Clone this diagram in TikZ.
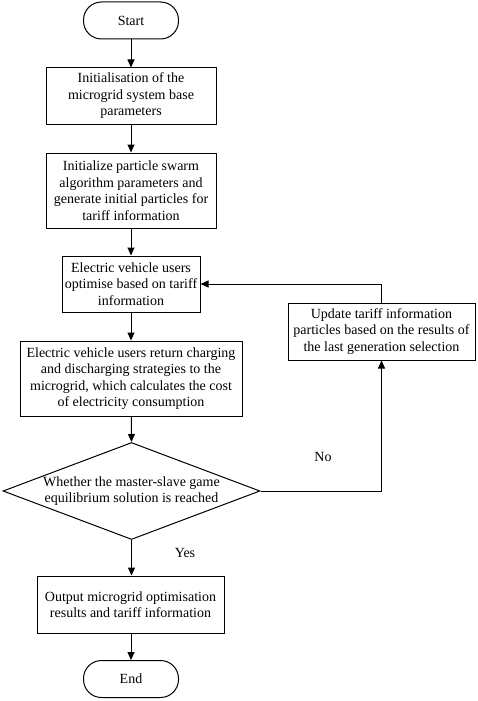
\documentclass[tikz,border=0pt]{standalone}
\usepackage{fontspec}
\setmainfont{Liberation Serif}
\usetikzlibrary{arrows.meta,shapes.geometric}
\begin{document}
\begin{tikzpicture}[x=1pt,y=1pt,
  every node/.style={font=\fontsize{14}{16.5}\selectfont},
  proc/.style={draw,line width=1pt,rectangle,align=center,inner sep=1pt},
  term/.style={draw,line width=1pt,rectangle,rounded corners=18pt,minimum width=95pt,minimum height=37pt},
  arr/.style={line width=1pt,-{Triangle[length=8pt,width=7pt]}},
  ln/.style={line width=1pt}]
\useasboundingbox (0,0) rectangle (477,-701);
\node[term] (start) at (131,-20.5) {Start};
\node[proc,minimum width=170pt,minimum height=56pt] (b1) at (131,-96) {Initialisation of the\\microgrid system base\\parameters};
\node[proc,minimum width=170pt,minimum height=75pt] (b2) at (131,-190.5) {Initialize particle swarm\\algorithm parameters and\\generate initial particles for\\tariff information};
\node[proc,minimum width=138pt,minimum height=56pt] (b3) at (131,-284) {Electric vehicle users\\optimise based on tariff\\information};
\node[proc,minimum width=222pt,minimum height=75pt] (b4) at (131,-378.5) {Electric vehicle users return charging\\and discharging strategies to the\\microgrid, which calculates the cost\\of electricity consumption};
\node[draw,line width=1pt,diamond,minimum width=257pt,minimum height=97pt,inner sep=0pt] (dia) at (131.5,-491) {};
\node[align=center] (diat) at (131.5,-491) {Whether the master-slave game\\equilibrium solution is reached};
\node[proc,minimum width=187pt,minimum height=57pt] (b5) at (130.5,-604.5) {Output microgrid optimisation\\results and tariff information};
\node[term] (end) at (131,-679) {End};
\node[proc,minimum width=187pt,minimum height=57pt] (b6) at (381.5,-331.5) {Update tariff information\\particles based on the results of\\the last generation selection};
\node (yes) at (185,-553) {Yes};
\node (no) at (323,-457) {No};
\coordinate (c1) at (b6.south |- dia.east);
\coordinate (c2) at (b6.north |- b3.east);
\draw[arr] (start) -- (b1);
\draw[arr] (b1) -- (b2);
\draw[arr] (b2) -- (b3);
\draw[arr] (b3) -- (b4);
\draw[arr] (b4) -- (dia.north);
\draw[arr] (dia.south) -- (dia.south |- b5.north);
\draw[arr] (b5.south -| end.north) -- (end);
\draw[arr] (dia.east) -- (c1) -- (b6.south);
\draw[arr] (b6.north) -- (c2) -- (b3.east);
\end{tikzpicture}
\end{document}
